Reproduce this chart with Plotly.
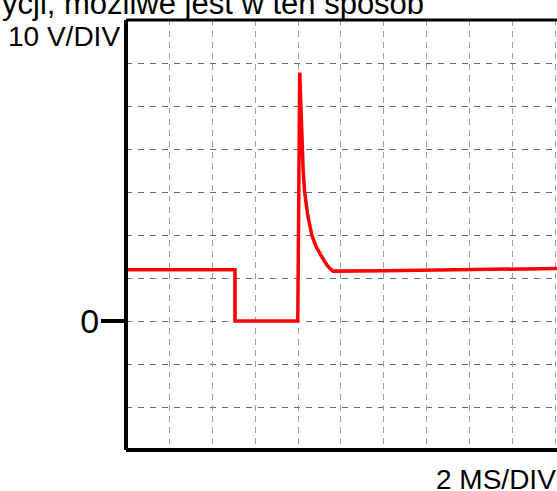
import plotly.graph_objects as go

# Oscilloscope trace: time in ms (2 ms/div), voltage in V (10 V/div)
time_ms = [0.0, 5.07, 5.07, 7.99, 8.08, 8.14, 8.19, 8.24, 8.31, 8.44, 8.64,
           8.84, 9.10, 9.23, 9.35, 9.49, 9.63, 12.0, 16.0, 20.05]
volts = [11.9, 11.9, 0.0, 0.0, 57.8, 50.0, 40.0, 35.0, 30.0, 25.0, 20.0,
         17.3, 15.0, 13.9, 13.0, 12.2, 11.6, 11.7, 11.9, 12.2]

title_text = "ycji, możliwe jest w ten sposób"
volt_label = "10 V/DIV"
time_label = "2 MS/DIV"
zero_label = "0"

FONT = "Liberation Sans, Arial, sans-serif"
W, H = 557, 491
ML, MR, MT, MB = 126, 0, 20, 41
PW, PH = W - ML - MR, H - MT - MB


def px_x(p):
    return (p - ML) / PW


def px_y(q):
    return (H - MB - q) / PH


fig = go.Figure()
fig.add_trace(go.Scatter(
    x=time_ms, y=volts, mode="lines",
    line=dict(color="#ff0000", width=3.5),
    hoverinfo="skip", showlegend=False,
))

grid_h = "#66668c"
grid_v = "#9c9cc0"

fig.update_layout(
    width=W, height=H,
    margin=dict(l=ML, r=MR, t=MT, b=MB, pad=0),
    paper_bgcolor="white", plot_bgcolor="white",
    showlegend=False,
    font=dict(family=FONT, color="black"),
    xaxis=dict(
        range=[0, 20.047], tick0=0, dtick=2,
        showgrid=True, gridcolor=grid_v, gridwidth=1, griddash="6px,5px",
        showticklabels=False, ticks="", zeroline=False, showline=False,
        fixedrange=True,
    ),
    yaxis=dict(
        range=[-30, 70], tickmode="array", tickvals=[0], ticktext=[zero_label],
        ticks="outside", ticklen=24, tickwidth=4, tickcolor="black",
        ticklabelstandoff=-5,
        tickfont=dict(size=34, family=FONT, color="black"),
        showgrid=True, gridcolor=grid_h, gridwidth=1, griddash="6px,6px",
        minor=dict(tick0=0, dtick=10, showgrid=True, gridcolor=grid_h,
                   gridwidth=1, griddash="6px,6px", ticks=""),
        zeroline=False, showline=False, fixedrange=True,
    ),
)

# Frame (left, top, bottom) – right side is cut by the image edge
frame = dict(color="black", width=4)
fig.add_shape(type="line", xref="paper", yref="paper", x0=0, x1=0, y0=0, y1=1, line=frame)
fig.add_shape(type="line", xref="paper", yref="paper", x0=0, x1=1.01, y0=1, y1=1, line=dict(color="black", width=3))
fig.add_shape(type="line", xref="paper", yref="paper", x0=0, x1=1.01, y0=0, y1=0, line=frame)

fig.add_annotation(
    text=title_text, xref="paper", yref="paper",
    x=px_x(0), y=px_y(3), xanchor="left", yanchor="middle",
    showarrow=False, font=dict(size=31, family=FONT, color="black"),
)
fig.add_annotation(
    text=volt_label, xref="paper", yref="paper",
    x=px_x(122), y=px_y(36), xanchor="right", yanchor="middle",
    showarrow=False, font=dict(size=28, family=FONT, color="black"),
)
fig.add_annotation(
    text=time_label, xref="paper", yref="paper",
    x=px_x(558), y=px_y(479), xanchor="right", yanchor="middle",
    showarrow=False, font=dict(size=28, family=FONT, color="black"),
)

fig.write_html("out.html", config={"displayModeBar": False},
               post_script="document.body.style.margin='0';")
